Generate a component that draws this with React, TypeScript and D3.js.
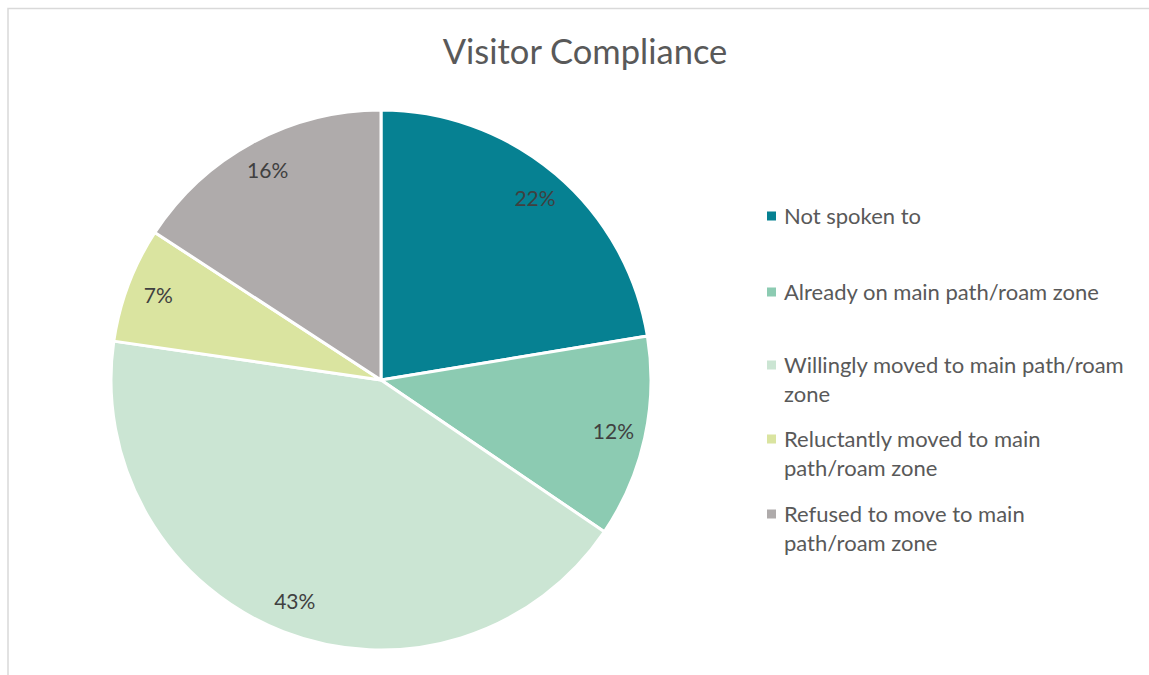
import React from "react";
import * as d3 from "d3";

const categories = [
  "Not spoken to",
  "Already on main path/roam zone",
  "Willingly moved to main path/roam zone",
  "Reluctantly moved to main path/roam zone",
  "Refused to move to main path/roam zone",
];
const values = [22.4, 12.1, 42.8, 6.9, 15.8];
const colors = ["#068192", "#8ccbb2", "#cbe5d3", "#dae4a0", "#afabab"];
const legendLines = [
  ["Not spoken to"],
  ["Already on main path/roam zone"],
  ["Willingly moved to main path/roam", "zone"],
  ["Reluctantly moved to main", "path/roam zone"],
  ["Refused to move to main", "path/roam zone"],
];
const legendY = [216, 292, 365, 439, 514];

export default function App() {
  const W = 1149, H = 675;
  const cx = 381, cy = 380, R = 270, labelR = 238;
  const total = d3.sum(values);
  const pie = d3.pie<number>().sort(null).value((d) => d);
  const arcs = pie(values);
  const arc = d3.arc<d3.PieArcDatum<number>>().innerRadius(0).outerRadius(R);
  const labelArc = d3.arc<d3.PieArcDatum<number>>().innerRadius(labelR).outerRadius(labelR);
  const font = "Lato, 'Open Sans', sans-serif";
  return (
    <svg width={W} height={H} style={{ position: "absolute", left: 0, top: 0, display: "block" }}>
      <rect x={0} y={0} width={W} height={H} fill="#fff" />
      <rect x={8} y={8.5} width={W + 20} height={H + 20} fill="none" stroke="#d9d9d9" strokeWidth={1.5} />
      <text x={585} y={64} textAnchor="middle" fontFamily={font} fontSize={34.5} fill="#595959">
        Visitor Compliance
      </text>
      <g transform={`translate(${cx},${cy})`}>
        {arcs.map((a, i) => (
          <path key={categories[i]} d={arc(a) || ""} fill={colors[i]} stroke="#fff" strokeWidth={3} strokeLinejoin="round" />
        ))}
        {arcs.map((a, i) => {
          const [x, y] = labelArc.centroid(a);
          return (
            <text key={"l" + i} x={x} y={y} dy="0.35em" textAnchor="middle" fontFamily={font} fontSize={21} fill="#404040">
              {Math.round((values[i] / total) * 100)}%
            </text>
          );
        })}
      </g>
      {legendLines.map((lines, i) => (
        <g key={"lg" + i}>
          <rect x={767} y={legendY[i] - 4.5} width={9} height={9} fill={colors[i]} />
          {lines.map((t, j) => (
            <text key={j} x={784} y={legendY[i] + j * 29.5} dy="0.35em" fontFamily={font} fontSize={22} fill="#595959">
              {t}
            </text>
          ))}
        </g>
      ))}
    </svg>
  );
}
